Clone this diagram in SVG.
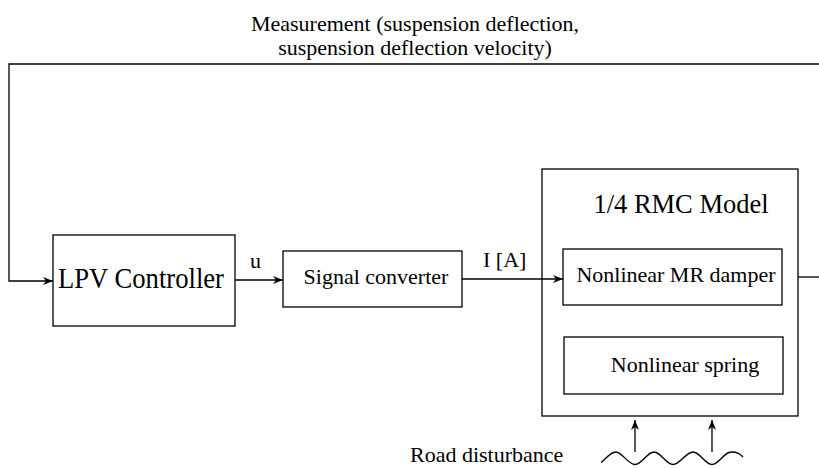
<svg xmlns="http://www.w3.org/2000/svg" width="819" height="468" viewBox="0 0 819 468">
<defs>
<marker id="ah" viewBox="0 0 10 8" refX="10" refY="4" markerWidth="10" markerHeight="8" markerUnits="userSpaceOnUse" orient="auto">
<path d="M0,0 L10,4 L0,8 L3,4 Z" fill="#000"/>
</marker>
</defs>
<style>
.box{fill:#fff;stroke:#000;stroke-width:1.3}
.ln{fill:none;stroke:#000;stroke-width:1.3}
text{font-family:"Liberation Serif","Times New Roman",serif;fill:#000}
.t22{font-size:22px}
.t26{font-size:26.5px}
</style>
<g id="measurement-label">
<text class="t22" x="415" y="31" text-anchor="middle">Measurement (suspension deflection,</text>
<text class="t22" x="415" y="55" text-anchor="middle">suspension deflection velocity)</text>
</g>
<g id="lpv-controller">
<rect class="box" x="53" y="235" width="182" height="91"/>
<text x="58" y="288" font-size="28.5" textLength="166" lengthAdjust="spacingAndGlyphs">LPV Controller</text>
</g>
<text id="label-u" class="t22" x="250" y="268">u</text>
<g id="signal-converter">
<rect class="box" x="283" y="251" width="179" height="56"/>
<text class="t22" x="376" y="284" text-anchor="middle">Signal converter</text>
</g>
<text id="label-i" class="t22" x="483" y="267">I [A]</text>
<g id="rmc-model">
<rect class="box" x="542" y="169" width="256" height="247"/>
<text class="t26" x="681" y="213" text-anchor="middle">1/4 RMC Model</text>
</g>
<g id="mr-damper">
<rect class="box" x="563" y="249" width="219" height="56"/>
<text class="t22" x="676" y="282" text-anchor="middle">Nonlinear MR damper</text>
</g>
<g id="spring">
<rect class="box" x="564" y="337" width="219" height="57"/>
<text class="t22" x="685" y="372" text-anchor="middle">Nonlinear spring</text>
</g>
<text id="road-label" class="t22" x="410" y="462">Road disturbance</text>
<g id="connectors">
<polyline class="ln" points="819,64 9,64 9,281 53,281" marker-end="url(#ah)"/>
<line class="ln" x1="235" y1="280" x2="283" y2="280" marker-end="url(#ah)"/>
<line class="ln" x1="462" y1="279" x2="563" y2="279" stroke-width="2" marker-end="url(#ah)"/>
<line class="ln" x1="798" y1="277" x2="819" y2="277" stroke="#555"/>
<line class="ln" x1="635" y1="452" x2="635" y2="420" marker-end="url(#ah)"/>
<line class="ln" x1="712" y1="452" x2="712" y2="420" marker-end="url(#ah)"/>
<path class="ln" d="M601,462.5 C606,459 610,452 616,452 S628,464.5 635,464.5 S647,452 654,452 S666,464.5 673,464.5 S686,452 693,452 S705,464.5 712,464.5 S724,452 731,452 S740,454 743,457"/>
</g>
</svg>
